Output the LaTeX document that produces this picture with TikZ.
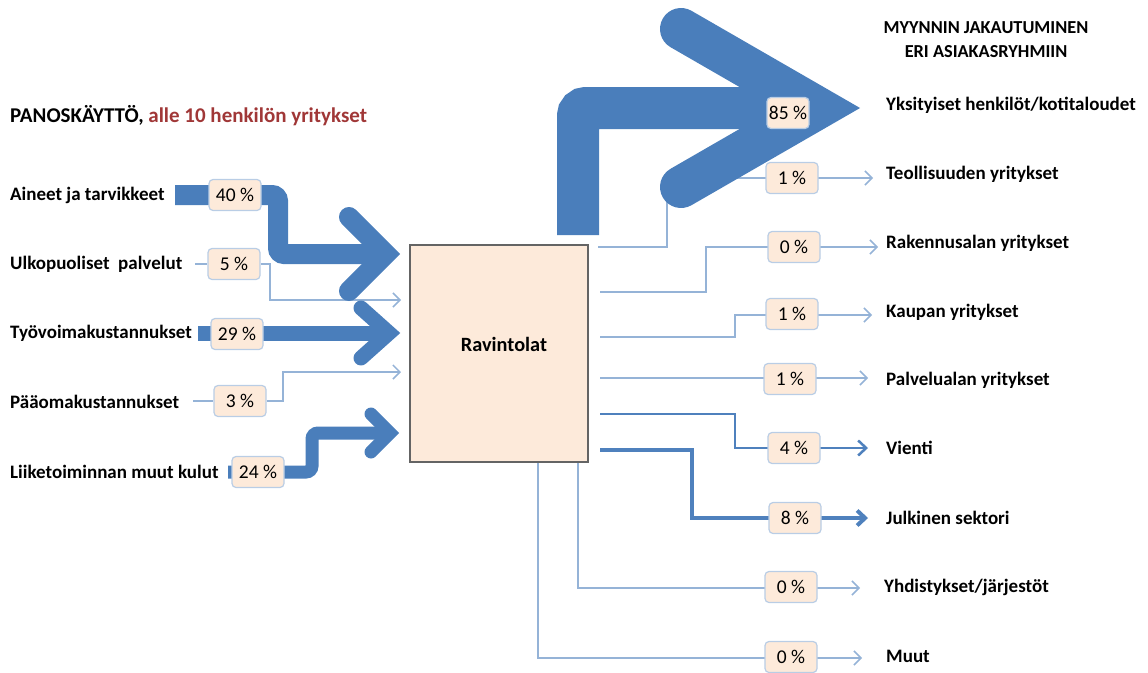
\documentclass[tikz,border=0pt]{standalone}
\usepackage{fontspec}
\setmainfont{Carlito}
\usetikzlibrary{arrows.meta}
\definecolor{bigblue}{RGB}{74,126,187}
\definecolor{midblue}{RGB}{79,129,189}
\definecolor{thinblue}{RGB}{149,179,215}
\definecolor{pctfill}{RGB}{253,234,218}
\definecolor{pctborder}{RGB}{185,205,229}
\definecolor{boxborder}{RGB}{100,100,100}
\definecolor{titlered}{RGB}{160,55,55}
\pgfdeclarelayer{bg}
\pgfsetlayers{bg,main}
\begin{document}
\begin{tikzpicture}[x=1pt,y=-1pt,
  lbl/.style={font=\bfseries\fontsize{19}{21}\selectfont, anchor=west, inner sep=0pt},
  pct/.style={draw=pctborder, line width=1.2pt, fill=pctfill, rounded corners=4pt,
    minimum width=52pt, minimum height=31pt, inner sep=0pt, font=\fontsize{19.5}{21}\selectfont},
  thinline/.style={draw=thinblue, line width=1.5pt, -{Straight Barb[length=7pt,width=14pt]}},
  midline/.style={draw=midblue, line width=#1, -{Straight Barb[length=8pt,width=15pt]}},
  shaft/.style={draw=bigblue, line width=#1, rounded corners=6pt, line cap=butt},
  chev/.style={draw=bigblue, line width=#1, line cap=round, line join=miter, miter limit=20},
  mainbox/.style={draw=boxborder, line width=1.2pt, fill=pctfill, minimum width=178pt, minimum height=217pt, inner sep=0pt}
]
\useasboundingbox (0,0) rectangle (1148,672);

% titles
\node[lbl, font=\bfseries\fontsize{21}{23}\selectfont] (title) at (10,116) {PANOSKÄYTTÖ, \textcolor{titlered}{alle 10 henkilön yritykset}};
\node[font=\bfseries\fontsize{18.3}{24}\selectfont, align=center, inner sep=0pt] (head) at (986,40) {MYYNNIN JAKAUTUMINEN\\ERI ASIAKASRYHMIIN};

% main box
\node[mainbox] (rav) at (499,353.5) {};
\node[font=\bfseries\fontsize{20.3}{22}\selectfont, inner sep=0pt] (ravtxt) at (504,344) {Ravintolat};

% left labels
\node[lbl] (in1) at (10,195) {Aineet ja tarvikkeet};
\node[lbl] (in2) at (10,264) {Ulkopuoliset\ \ palvelut};
\node[lbl] (in3) at (10,333) {Työvoimakustannukset};
\node[lbl] (in4) at (10,402) {Pääomakustannukset};
\node[lbl] (in5) at (10,472) {Liiketoiminnan muut kulut};

% left percent boxes
\node[pct] (p40) at (235,195) {40 \%};
\node[pct] (p5) at (234,264) {5 \%};
\node[pct] (p29) at (237,334) {29 \%};
\node[pct] (p3) at (240,401) {3 \%};
\node[pct] (p24) at (258,472) {24 \%};

% right labels
\node[lbl] (out1) at (886,105) {Yksityiset henkilöt/kotitaloudet};
\node[lbl] (out2) at (886,174) {Teollisuuden yritykset};
\node[lbl] (out3) at (886,243) {Rakennusalan yritykset};
\node[lbl] (out4) at (886,312) {Kaupan yritykset};
\node[lbl] (out5) at (886,380) {Palvelualan yritykset};
\node[lbl] (out6) at (886,448) {Vienti};
\node[lbl] (out7) at (886,518) {Julkinen sektori};
\node[lbl] (out8) at (884,587) {Yhdistykset/järjestöt};
\node[lbl] (out9) at (886,656) {Muut};

% right percent boxes
\node[pct, minimum width=42pt] (q85) at (788,113) {85 \%};
\node[pct] (q1a) at (792,178) {1 \%};
\node[pct] (q0a) at (794,247) {0 \%};
\node[pct] (q1b) at (792,314) {1 \%};
\node[pct] (q1c) at (790,379) {1 \%};
\node[pct] (q4) at (794,448) {4 \%};
\node[pct] (q8) at (795,518) {8 \%};
\node[pct] (q0b) at (791,587) {0 \%};
\node[pct] (q0c) at (791,657) {0 \%};

% free ends
\coordinate (s5) at (195,264);
\coordinate (s3) at (193,401);
\coordinate (e5) at (401,300);
\coordinate (e3) at (401,372);
\coordinate (t1) at (873,178);
\coordinate (t2) at (878,247);
\coordinate (t3) at (872,315);
\coordinate (t4) at (868,378);
\coordinate (t5) at (868,448);
\coordinate (t6) at (868,518);
\coordinate (t7) at (860,588);
\coordinate (t8) at (862,658);

\begin{pgfonlayer}{bg}
  % thin input lines
  \draw[thinline] (s5) -- (p5.west) (p5.east) -- (270,264) -- (270,300) -- (e5);
  \draw[thinline] (s3) -- (p3.west) (p3.east) -- (283,401) -- (283,372) -- (e3);
  % output lines
  \draw[thinline] (598,247) -- (667,247) -- (667,178) -- (t1);
  \draw[thinline] (600,292) -- (706,292) -- (706,247) -- (t2);
  \draw[thinline] (600,337) -- (735,337) -- (735,315) -- (t3);
  \draw[thinline] (600,378) -- (t4);
  \draw[midline=2.5pt] (600,414) -- (735,414) -- (735,448) -- (t5);
  \draw[midline=4pt] (600,450) -- (692,450) -- (692,518) -- (t6);
  \draw[thinline] (578,462) -- (578,588) -- (t7);
  \draw[thinline] (538,462) -- (538,658) -- (t8);
  % big input arrows
  \draw[shaft=20pt] (175,195) -- (278,195) -- (278,254) -- (386,254);
  \draw[chev=20pt] (349,217) -- (386,254) -- (349,291);
  \draw[shaft=15pt, rounded corners=0pt] (198,333) -- (389,333);
  \draw[chev=15pt] (361,308) -- (389,333) -- (361,358);
  \draw[shaft=13pt] (228,472) -- (312,472) -- (312,433) -- (390,433);
  \draw[chev=13pt] (371,414) -- (390,433) -- (371,452);
  % big output arrow
  \draw[shaft=42pt, rounded corners=8pt] (578,235) -- (578,108) -- (818,108);
  \draw[chev=42pt] (681,29) -- (818,108) -- (681,187);
\end{pgfonlayer}
\end{tikzpicture}
\end{document}
